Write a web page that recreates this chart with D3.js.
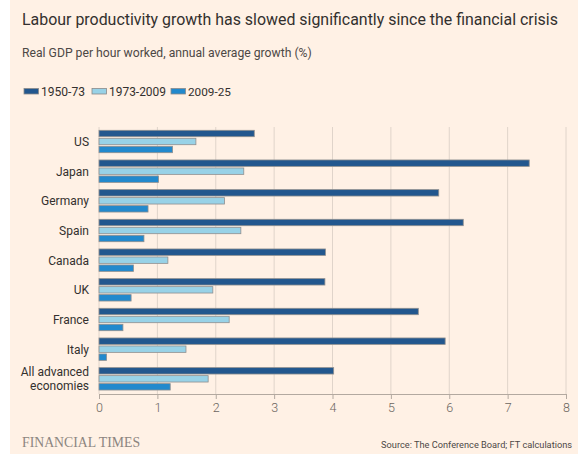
<!DOCTYPE html>
<html>
<head>
<meta charset="utf-8">
<script src="https://cdn.jsdelivr.net/npm/d3@7"></script>
<style>
  html, body { margin: 0; padding: 0; background: #fff; }
  svg { display: block; font-family: Roboto, "Open Sans", sans-serif; }
</style>
</head>
<body>
<script>
// Real GDP per hour worked, annual average growth (%)
const countries = ["US", "Japan", "Germany", "Spain", "Canada", "UK", "France", "Italy", "All advanced economies"];
const seriesNames = ["1950-73", "1973-2009", "2009-25"];
const growth1950_73 = [2.66, 7.37, 5.82, 6.24, 3.88, 3.87, 5.47, 5.93, 4.02];
const growth1973_2009 = [1.66, 2.48, 2.15, 2.43, 1.18, 1.95, 2.23, 1.49, 1.87];
const growth2009_25 = [1.26, 1.02, 0.84, 0.77, 0.59, 0.55, 0.41, 0.13, 1.22];
const xTicks = [0, 1, 2, 3, 4, 5, 6, 7, 8];
const seriesColors = ["#22578e", "#98d2e7", "#2289cd"];

const W = 578, H = 454;
const svg = d3.select("body").append("svg").attr("width", W).attr("height", H);

// page background
svg.append("rect").attr("x", 0).attr("y", 0).attr("width", W).attr("height", H).attr("fill", "#fff");
svg.append("rect").attr("x", 10).attr("y", 0).attr("width", W - 10).attr("height", H).attr("fill", "#fff1e5");

// scale a text element so its rendered width equals the given width
function fitWidth(sel, width) {
  const node = sel.node();
  const fs = parseFloat(sel.attr("font-size"));
  const w = node.getComputedTextLength();
  sel.attr("font-size", (fs * width / w).toFixed(2));
  return sel;
}

fitWidth(svg.append("text").attr("x", 22).attr("y", 25).attr("font-size", 17)
  .attr("fill", "#33302e").text("Labour productivity growth has slowed significantly since the financial crisis"), 536);

fitWidth(svg.append("text").attr("x", 22).attr("y", 57).attr("font-size", 13)
  .attr("fill", "#4d4845").text("Real GDP per hour worked, annual average growth (%)"), 290);

// legend
const legendX = [24, 92, 171];
const legendW = [61, 74, 60];
const legend = svg.append("g");
seriesNames.forEach((name, i) => {
  legend.append("rect").attr("x", legendX[i]).attr("y", 88.5).attr("width", 14.5).attr("height", 5.5)
    .attr("fill", seriesColors[i]).attr("stroke", "#8a8a8a").attr("stroke-width", 0.8);
  fitWidth(legend.append("text").attr("x", legendX[i] + 17).attr("y", 95.5).attr("font-size", 11)
    .attr("fill", "#33302e").text(name), legendW[i] - 17);
});

// plot scales
const x = d3.scaleLinear().domain([0, 8]).range([99, 566]);
const y = d3.scaleBand().domain(countries).range([127, 394]);
const ySub = d3.scaleBand().domain(seriesNames).range([2.5, 26.5]).paddingInner(0.2).paddingOuter(0.1);

// gridlines
svg.append("g").selectAll("line").data(xTicks).join("line")
  .attr("x1", d => x(d)).attr("x2", d => x(d))
  .attr("y1", 127).attr("y2", 394)
  .attr("stroke", "#e0d4ca").attr("stroke-width", 1);

// bars
const seriesValues = [growth1950_73, growth1973_2009, growth2009_25];
const barData = [];
countries.forEach((c, ci) => {
  seriesNames.forEach((s, si) => {
    barData.push({ country: c, series: s, value: seriesValues[si][ci], color: seriesColors[si] });
  });
});
svg.append("g").selectAll("rect").data(barData).join("rect")
  .attr("x", x(0))
  .attr("y", d => y(d.country) + ySub(d.series))
  .attr("width", d => x(d.value) - x(0))
  .attr("height", ySub.bandwidth())
  .attr("fill", d => d.color)
  .attr("stroke", "#8f8f8f").attr("stroke-width", 0.8);

// x axis
const xAxis = svg.append("g").attr("transform", "translate(0,394)")
  .call(d3.axisBottom(x).tickValues(xTicks).tickFormat(d3.format("d")).tickSizeOuter(0).tickSize(5).tickPadding(4));
xAxis.select(".domain").attr("stroke", "#b3a9a0");
xAxis.selectAll(".tick line").attr("stroke", "#b3a9a0");
xAxis.selectAll(".tick text").attr("font-size", 12.5).attr("fill", "#6b6560")
  .style("font-family", "Roboto, sans-serif").style("font-weight", 300);

// category labels
const yLab = svg.append("g");
countries.forEach(c => {
  const cy = y(c) + y.bandwidth() / 2;
  const t = yLab.append("text").attr("x", 89).attr("text-anchor", "end")
    .attr("font-size", 12).attr("fill", "#33302e");
  if (c === "All advanced economies") {
    t.append("tspan").attr("x", 89).attr("y", cy - 3).text("All advanced");
    t.append("tspan").attr("x", 89).attr("y", cy + 11).text("economies");
  } else {
    t.attr("y", cy + 4).text(c);
  }
});

// footer
fitWidth(svg.append("text").attr("x", 22).attr("y", 447).attr("font-size", 14)
  .style("font-family", "'Liberation Serif', 'DejaVu Serif', serif")
  .attr("fill", "#8c8580").text("FINANCIAL TIMES"), 118);

const src = svg.append("text").attr("x", 572).attr("y", 448).attr("text-anchor", "end")
  .attr("font-size", 11).attr("fill", "#4d4845").text("Source: The Conference Board; FT calculations");
fitWidth(src, 191);
</script>
</body>
</html>
